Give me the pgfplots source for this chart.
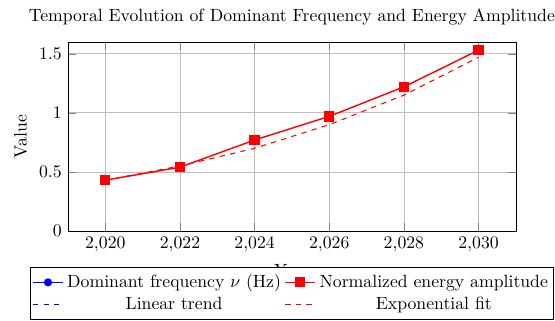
\documentclass[border=0pt]{standalone}
\usepackage{pgfplots}
\pgfplotsset{compat=1.18}
\begin{document}
\begin{tikzpicture}
\begin{axis}[
  scale only axis,
  width=253pt, height=106.8pt,
  xmin=2019, xmax=2031,
  ymin=0, ymax=1.6,
  xtick={2020,2022,...,2030},
  ytick={0,0.5,1,1.5},
  grid=major,
  title={Temporal Evolution of Dominant Frequency and Energy Amplitude},
  xlabel={Year},
  ylabel={Value},
  legend columns=2,
  legend cell align=center,
  legend style={at={(0.5,-0.19)}, anchor=north, fill=white, draw=black, inner xsep=1pt},
]
\addplot[blue, semithick, mark=*, mark size=2pt] coordinates {
  (2020,4.2) (2022,4.5) (2024,4.9) (2026,5.2) (2028,5.6) (2030,6.0)};
\addlegendentry{Dominant frequency $\nu$ (Hz)}
\addplot[red, thick, mark=square*, mark size=2.5pt] coordinates {
  (2020,0.43) (2022,0.54) (2024,0.77) (2026,0.97) (2028,1.22) (2030,1.53)};
\addlegendentry{Normalized energy amplitude}
\addplot[blue, semithick, dashed] coordinates {
  (2020,4.15) (2022,4.52) (2024,4.89) (2026,5.26) (2028,5.63) (2030,6.0)};
\addlegendentry{Linear trend}
\addplot[red, semithick, dashed] coordinates {
  (2020,0.43) (2022,0.55) (2024,0.70) (2026,0.90) (2028,1.15) (2030,1.47)};
\addlegendentry{Exponential fit}
\end{axis}
\pgfresetboundingbox
\path[use as bounding box] (-38.4pt,-50.3pt) rectangle (275.1pt,130.5pt);
\end{tikzpicture}
\end{document}
